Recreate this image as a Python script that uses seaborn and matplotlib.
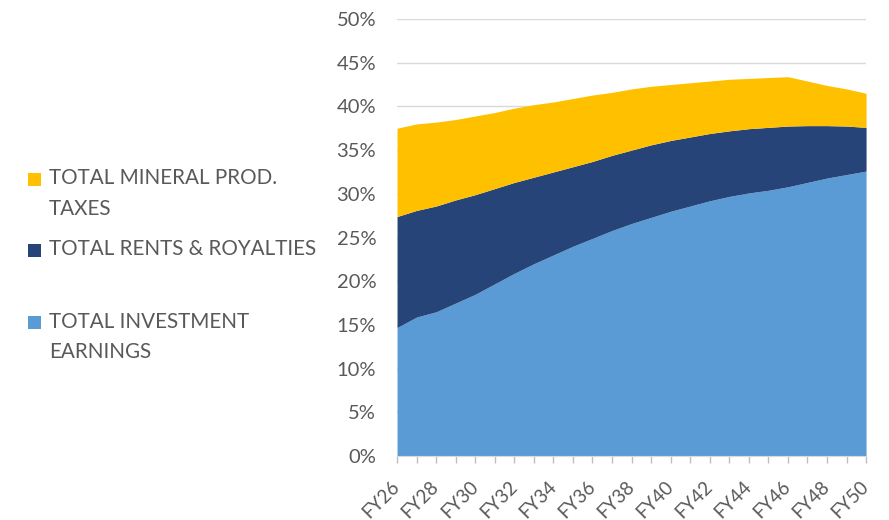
import matplotlib
matplotlib.use("Agg")
import matplotlib.pyplot as plt
from matplotlib.patches import Rectangle
from matplotlib.ticker import FuncFormatter, MultipleLocator
import seaborn as sns
import numpy as np

years = ["FY26", "FY27", "FY28", "FY29", "FY30", "FY31", "FY32", "FY33", "FY34",
         "FY35", "FY36", "FY37", "FY38", "FY39", "FY40", "FY41", "FY42", "FY43",
         "FY44", "FY45", "FY46", "FY47", "FY48", "FY49", "FY50"]

investment = [14.7, 15.9, 16.5, 17.5, 18.5, 19.7, 20.9, 22.0, 23.0, 24.0, 24.9, 25.8,
              26.6, 27.3, 28.0, 28.6, 29.2, 29.7, 30.1, 30.4, 30.8, 31.3, 31.8, 32.2, 32.6]
rents = [12.7, 12.2, 12.1, 11.8, 11.4, 10.9, 10.4, 9.9, 9.5, 9.1, 8.8, 8.6,
         8.4, 8.3, 8.1, 7.9, 7.7, 7.5, 7.35, 7.2, 6.95, 6.5, 6.0, 5.55, 5.0]
mineral = [10.1, 9.9, 9.6, 9.2, 9.0, 8.7, 8.5, 8.3, 8.0, 7.8, 7.6, 7.2,
           7.0, 6.7, 6.4, 6.2, 6.0, 5.9, 5.75, 5.7, 5.65, 5.1, 4.6, 4.25, 3.9]

series_labels = ["TOTAL MINERAL PROD.\nTAXES", "TOTAL RENTS & ROYALTIES",
                 "TOTAL INVESTMENT\nEARNINGS"]
colors = {"investment": "#5B9BD5", "rents": "#264478", "mineral": "#FFC000"}

sns.set_style("white")
plt.rcParams["font.family"] = ["Lato", "DejaVu Sans"]

fig = plt.figure(figsize=(8.89, 5.20), dpi=100)
ax = fig.add_axes([0.4466, 0.123, 0.9742 - 0.4466, 0.9635 - 0.123])

x = np.arange(len(years))
ax.stackplot(x, investment, rents, mineral,
             colors=[colors["investment"], colors["rents"], colors["mineral"]],
             linewidth=0, zorder=2)

ax.set_xlim(0, len(years) - 1)
ax.set_ylim(0, 50)
ax.yaxis.set_major_locator(MultipleLocator(5))
ax.yaxis.set_major_formatter(FuncFormatter(lambda v, p: f"{v:.0f}%"))
ax.grid(axis="y", color="#d9d9d9", linewidth=1.0, zorder=0)
ax.set_axisbelow(True)

ax.set_xticks(x)
ax.set_xticklabels([yr if i % 2 == 0 else "" for i, yr in enumerate(years)],
                   rotation=45, ha="right", va="center", rotation_mode="anchor")
ax.tick_params(axis="x", length=5, width=1, color="#bfbfbf", labelsize=13.5,
               labelcolor="#595959", pad=15, bottom=True)
ax.tick_params(axis="y", length=0, labelsize=14.5, labelcolor="#595959", pad=15)

for s in ["top", "right", "left"]:
    ax.spines[s].set_visible(False)
ax.spines["bottom"].set_color("#d9d9d9")

# legend on the left
W, H = 889, 520
entries = [(series_labels[0], colors["mineral"], 179),
           (series_labels[1], colors["rents"], 250),
           (series_labels[2], colors["investment"], 322)]
for label, col, ypix in entries:
    fig.patches.append(Rectangle((28 / W, 1 - (ypix + 6.5) / H), 13 / W, 13 / H,
                                 transform=fig.transFigure, facecolor=col,
                                 edgecolor="none"))
    fig.text(49 / W, 1 - (ypix - 10.5) / H, label, ha="left", va="top",
             fontsize=14.9, color="#595959", linespacing=1.65)

fig.savefig("out.png", dpi=100)
